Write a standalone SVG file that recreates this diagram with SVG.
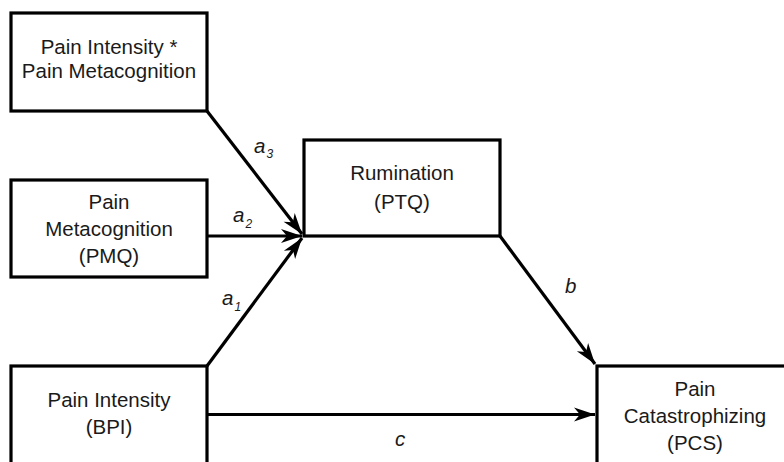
<svg xmlns="http://www.w3.org/2000/svg" width="784" height="462" viewBox="0 0 784 462">
<style>
.box{fill:#fff;stroke:#000;stroke-width:3.2}
.t{font-family:"Liberation Sans",Arial,sans-serif;font-size:20.5px;fill:#1a1a1a;text-anchor:middle}
.lab{font-family:"Liberation Sans",Arial,sans-serif;font-size:20.5px;font-style:italic;fill:#1a1a1a}
.sub{font-size:12px}
.edge{stroke:#000;stroke-width:3.2;fill:none}
</style>
<defs>
<marker id="ah" markerUnits="userSpaceOnUse" viewBox="-22 -8 24 16" refX="0" refY="0" markerWidth="24" markerHeight="16" orient="auto">
<path d="M0,0 L-21,-7 L-15,0 L-21,7 Z" fill="#000"/>
</marker>
</defs>
<g id="connectors">
<line class="edge" x1="207" y1="111" x2="302" y2="234" marker-end="url(#ah)"/>
<line class="edge" x1="207" y1="236" x2="302" y2="236" marker-end="url(#ah)"/>
<line class="edge" x1="207" y1="366" x2="302" y2="238" marker-end="url(#ah)"/>
<line class="edge" x1="500" y1="236" x2="595" y2="364" marker-end="url(#ah)"/>
<line class="edge" x1="207" y1="414.5" x2="595" y2="414.5" marker-end="url(#ah)"/>
<text class="lab" x="254" y="153">a<tspan class="sub" dx="1" dy="5">3</tspan></text>
<text class="lab" x="233" y="222">a<tspan class="sub" dx="1" dy="6">2</tspan></text>
<text class="lab" x="222" y="305">a<tspan class="sub" dx="1" dy="6">1</tspan></text>
<text class="lab" x="565" y="293">b</text>
<text class="lab" x="395" y="446">c</text>
</g>
<g id="interaction">
<rect class="box" x="11" y="13" width="196" height="98"/>
<text class="t" x="109" y="54">Pain Intensity *</text>
<text class="t" x="109" y="78">Pain Metacognition</text>
</g>
<g id="pmq">
<rect class="box" x="11" y="180" width="196" height="97"/>
<text class="t" x="109" y="209">Pain</text>
<text class="t" x="109" y="236">Metacognition</text>
<text class="t" x="109" y="263">(PMQ)</text>
</g>
<g id="ptq">
<rect class="box" x="304" y="140" width="196" height="96"/>
<text class="t" x="402" y="180">Rumination</text>
<text class="t" x="402" y="209">(PTQ)</text>
</g>
<g id="bpi">
<rect class="box" x="11" y="366" width="196" height="110"/>
<text class="t" x="109" y="407">Pain Intensity</text>
<text class="t" x="109" y="434">(BPI)</text>
</g>
<g id="pcs">
<rect class="box" x="597" y="366" width="196" height="110"/>
<text class="t" x="695" y="396">Pain</text>
<text class="t" x="695" y="423">Catastrophizing</text>
<text class="t" x="695" y="450">(PCS)</text>
</g>
</svg>
